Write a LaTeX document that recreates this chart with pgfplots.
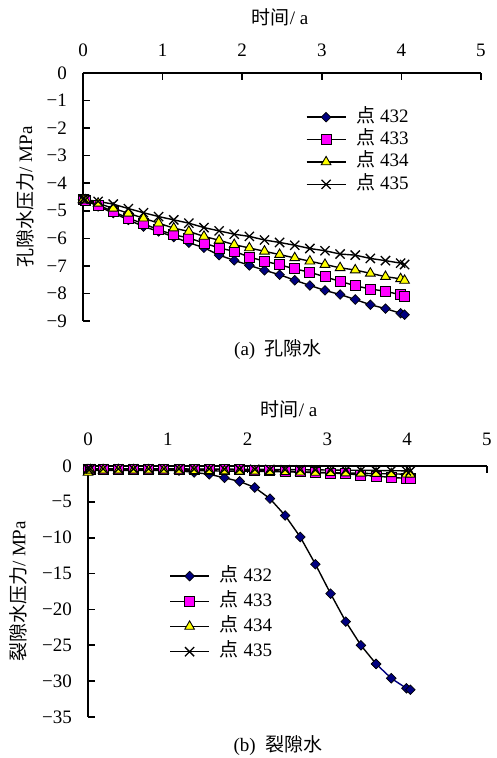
\documentclass[border=0pt]{standalone}
\usepackage{fontspec}
\setmainfont{Liberation Serif}
\newfontfamily\cjk{Noto Sans CJK SC}
\usepackage{pgfplots}
\pgfplotsset{compat=1.18}
\usepackage{pgfplotstable}
\definecolor{mnavy}{HTML}{000080}
\definecolor{mmag}{HTML}{FF00FF}
\definecolor{myel}{HTML}{FFFF00}

\pgfplotstableread{
t     a      b      c      d
0     -4.60  -4.60  -4.60  -4.58
0.03  -4.62  -4.62  -4.61  -4.60
0.19  -4.84  -4.79  -4.73  -4.66
0.38  -5.08  -5.03  -4.91  -4.76
0.57  -5.33  -5.27  -5.09  -4.92
0.76  -5.57  -5.47  -5.27  -5.07
0.95  -5.75  -5.69  -5.45  -5.21
1.14  -5.95  -5.87  -5.63  -5.33
1.33  -6.16  -5.99  -5.75  -5.45
1.52  -6.34  -6.17  -5.93  -5.61
1.71  -6.61  -6.35  -6.07  -5.73
1.90  -6.80  -6.47  -6.23  -5.85
2.09  -6.98  -6.68  -6.35  -5.93
2.28  -7.16  -6.83  -6.47  -6.06
2.47  -7.32  -6.96  -6.59  -6.15
2.66  -7.52  -7.11  -6.71  -6.25
2.85  -7.71  -7.23  -6.83  -6.37
3.04  -7.89  -7.40  -6.95  -6.45
3.23  -8.04  -7.56  -7.07  -6.57
3.42  -8.22  -7.72  -7.15  -6.61
3.61  -8.41  -7.84  -7.27  -6.73
3.80  -8.55  -7.92  -7.39  -6.81
3.99  -8.72  -8.05  -7.47  -6.90
4.04  -8.77  -8.10  -7.53  -6.95
}\poretable

\pgfplotstableread{
t     a       b      c      d
0     -0.40  -0.45  -0.90  -0.40
0.03  -0.40  -0.45  -0.60  -0.40
0.19  -0.40  -0.45  -0.60  -0.40
0.38  -0.40  -0.45  -0.60  -0.40
0.57  -0.40  -0.45  -0.60  -0.40
0.76  -0.42  -0.45  -0.60  -0.40
0.95  -0.50  -0.45  -0.60  -0.40
1.14  -0.65  -0.45  -0.62  -0.40
1.33  -0.90  -0.45  -0.65  -0.42
1.52  -1.15  -0.48  -0.68  -0.42
1.71  -1.65  -0.50  -0.70  -0.44
1.90  -2.15  -0.55  -0.72  -0.45
2.09  -3.00  -0.60  -0.75  -0.46
2.28  -4.55  -0.65  -0.78  -0.48
2.47  -6.90  -0.72  -0.82  -0.50
2.66  -9.90  -0.80  -0.86  -0.52
2.85  -13.70 -0.88  -0.90  -0.54
3.04  -17.80 -0.97  -0.94  -0.56
3.23  -21.70 -1.08  -0.98  -0.58
3.42  -25.00 -1.25  -1.02  -0.60
3.61  -27.60 -1.40  -1.06  -0.62
}\fractableA

\pgfplotstableread{
t     a       b      c      d
3.61  -27.60 -1.40  -1.06  -0.62
3.80  -29.60 -1.60  -1.10  -0.65
3.99  -31.00 -1.72  -1.14  -0.68
4.04  -31.20 -1.75  -1.16  -0.70
}\fractableB

\pgfplotsset{
  mystyle/.style={
    scale only axis,
    axis x line*=top, axis y line*=left,
    tick align=inside,
    major tick length=7pt,
    axis line style={line width=1.6pt},
    every tick/.style={line width=1.6pt, black},
    xmin=0, xmax=5, xtick={0,1,2,3,4,5}, xticklabels={0,1,2,3,4,5},
    tick label style={font=\fontsize{19}{22}\selectfont},
    label style={font=\fontsize{19}{22}\selectfont},
    yticklabel style={anchor=east, inner sep=0pt, xshift=-16pt},
    clip=false,
    legend cell align=left,
    legend image code/.code={
      \draw[##1, mark repeat=2, mark phase=2] plot coordinates {(0pt,0pt)(19.5pt,0pt)(39pt,0pt)};
    },
  },
  s432/.style={black, line width=1.4pt, mark=square*, mark size=3.4pt,
    mark options={rotate=45, fill=mnavy, draw=black, line width=0.7pt, solid}},
  s433/.style={black, line width=1.4pt, mark=square*, mark size=5pt,
    mark options={fill=mmag, draw=black, line width=0.9pt, solid}},
  s434/.style={black, line width=1.4pt, mark=triangle*, mark size=5.6pt,
    mark options={fill=myel, draw=black, line width=0.9pt, solid}},
  s435/.style={black, line width=1.4pt, mark=x, mark size=6.5pt,
    mark options={draw=black, line width=1.3pt, solid}},
}

\begin{document}
\begin{tikzpicture}
\useasboundingbox (0pt,0pt) rectangle (496pt,758pt);

% (a) pore water
\begin{axis}[mystyle,
  at={(83pt,437pt)}, anchor=south west,
  width=398pt, height=248pt,
  ymin=-9, ymax=0,
  ytick={-9,-8,-7,-6,-5,-4,-3,-2,-1,0},
  yticklabels={−9,−8,−7,−6,−5,−4,−3,−2,−1,0},
  xticklabel style={anchor=base, inner sep=0pt, yshift=16.5pt},
  xlabel={{\cjk 时间}/ a},
  xlabel style={at={(axis description cs:0.495,1.226)}, anchor=center},
  ylabel={{\cjk 孔隙水压力}/ MPa},
  ylabel style={at={(axis description cs:-0.146,0.5)}, anchor=center, rotate=0},
  legend style={draw=none, fill=none, font=\fontsize{19}{22}\selectfont,
    at={(axis description cs:0.552,0.867)}, anchor=north west,
    row sep=4.4pt,
    /tikz/every odd column/.append style={column sep=10pt},
    nodes={inner sep=0pt, text height=14pt, text depth=4pt}},
]
\addplot[s432] table[x=t,y=a] {\poretable};
\addlegendentry{{\cjk 点} 432}
\addplot[s433] table[x=t,y=b] {\poretable};
\addlegendentry{{\cjk 点} 433}
\addplot[s434] table[x=t,y=c] {\poretable};
\addlegendentry{{\cjk 点} 434}
\addplot[s435] table[x=t,y=d] {\poretable};
\addlegendentry{{\cjk 点} 435}
\node[font=\fontsize{19}{22}\selectfont, anchor=center] at (axis description cs:0.49,-0.117) {(a)\ \ {\cjk 孔隙水}};
\end{axis}

% (b) fracture water
\begin{axis}[mystyle,
  at={(88pt,41pt)}, anchor=south west,
  width=399pt, height=251pt,
  ymin=-35, ymax=0,
  ytick={-35,-30,-25,-20,-15,-10,-5,0},
  yticklabels={−35,−30,−25,−20,−15,−10,−5,0},
  xticklabel style={anchor=base, inner sep=0pt, yshift=21pt},
  xlabel={{\cjk 时间}/ a},
  xlabel style={at={(axis description cs:0.504,1.227)}, anchor=center},
  ylabel={{\cjk 裂隙水压力}/ MPa},
  ylabel style={at={(axis description cs:-0.175,0.5)}, anchor=center, rotate=0},
  legend style={draw=none, fill=none, font=\fontsize{19}{22}\selectfont,
    at={(axis description cs:0.196,0.606)}, anchor=north west,
    row sep=7.2pt,
    /tikz/every odd column/.append style={column sep=10pt},
    nodes={inner sep=0pt, text height=14pt, text depth=4pt}},
]
\addplot[s432] table[x=t,y=a] {\fractableA};
\addlegendentry{{\cjk 点} 432}
\addplot[s432, draw=mnavy, forget plot] table[x=t,y=a] {\fractableB};
\addplot[s433] table[x=t,y=b] {\fractableA};
\addlegendentry{{\cjk 点} 433}
\addplot[s433, forget plot] table[x=t,y=b] {\fractableB};
\addplot[s434] table[x=t,y=c] {\fractableA};
\addlegendentry{{\cjk 点} 434}
\addplot[s434, forget plot] table[x=t,y=c] {\fractableB};
\addplot[s435] table[x=t,y=d] {\fractableA};
\addlegendentry{{\cjk 点} 435}
\addplot[s435, forget plot] table[x=t,y=d] {\fractableB};
\node[font=\fontsize{19}{22}\selectfont, anchor=center] at (axis description cs:0.476,-0.1155) {(b)\ \ {\cjk 裂隙水}};
\end{axis}
\end{tikzpicture}
\end{document}
